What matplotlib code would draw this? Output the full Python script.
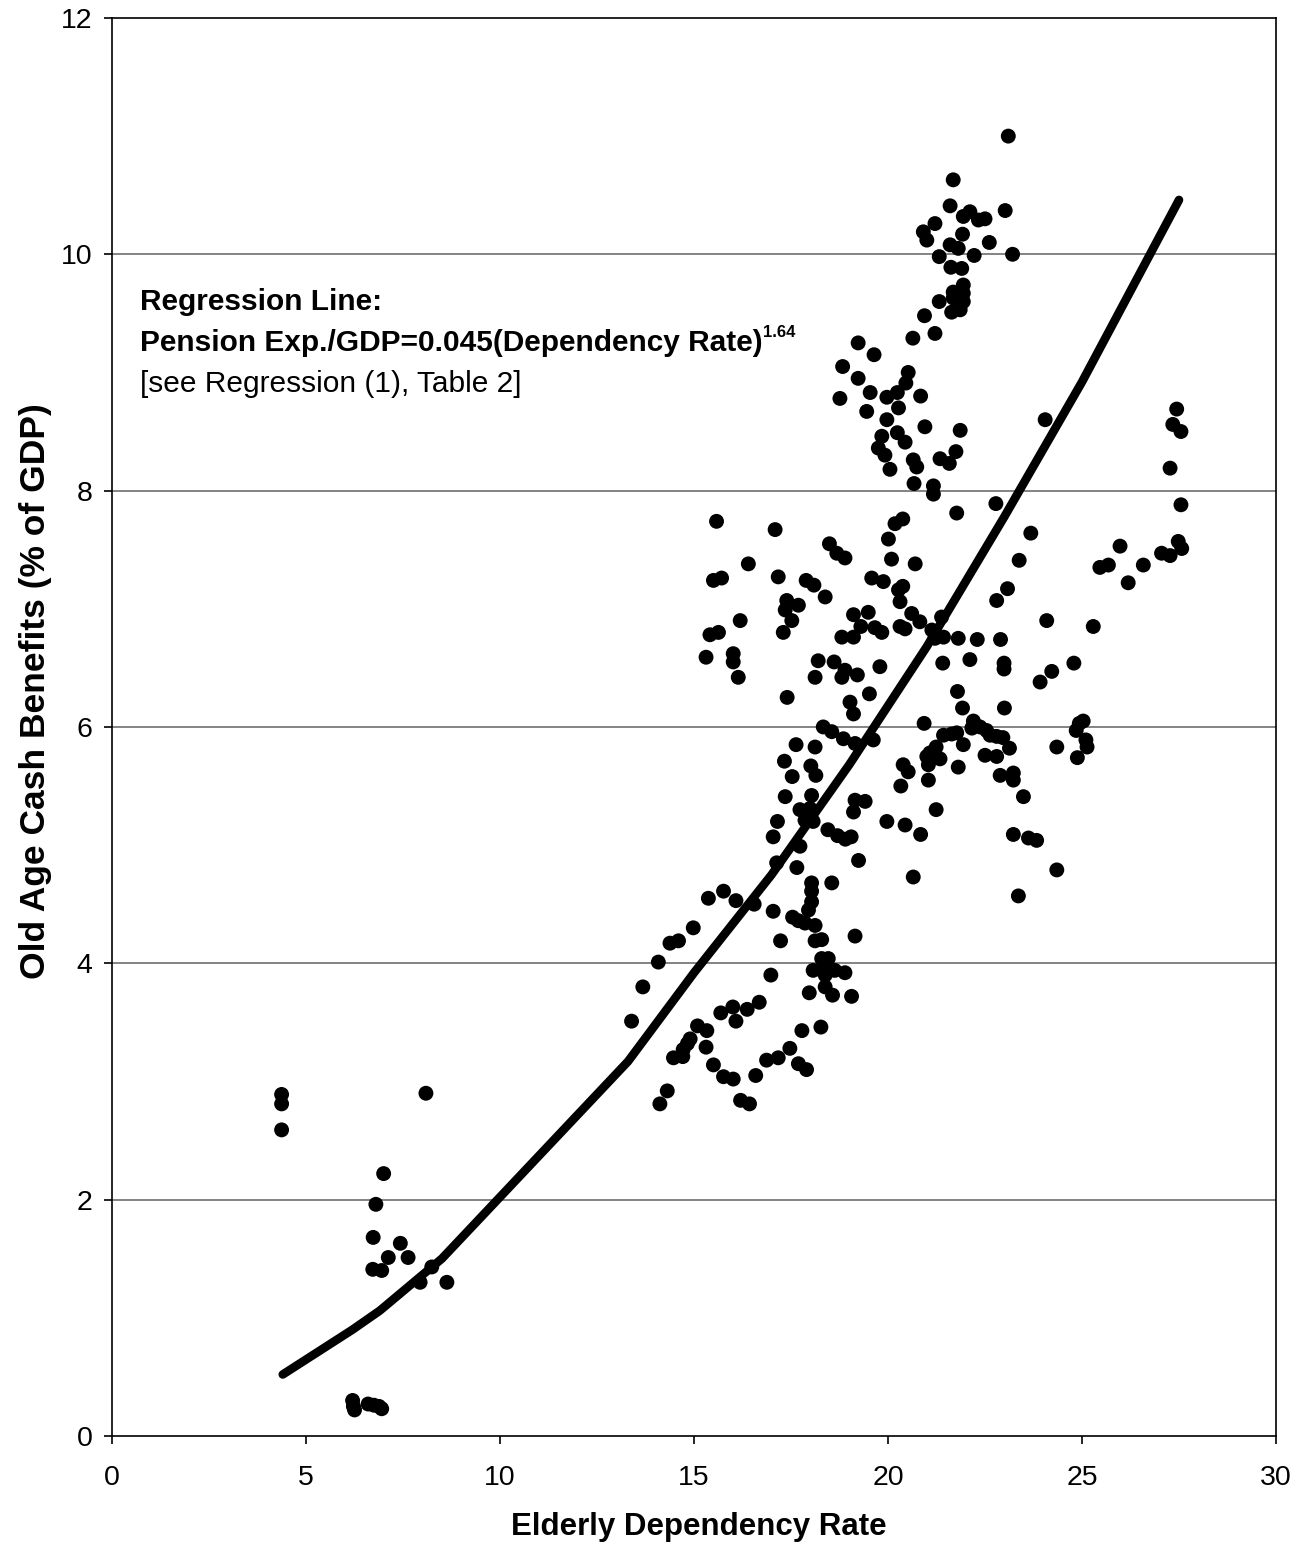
import numpy as np
import matplotlib
matplotlib.use("Agg")
import matplotlib.pyplot as plt

plt.rcParams["font.family"] = ["Liberation Sans", "DejaVu Sans"]

# elderly dependency rate (x) and old age cash benefits, % of GDP (y)
dep_rate = [
    4.37, 4.37, 4.37, 8.09, 7.00, 6.80, 6.73, 7.43, 7.12, 7.63, 6.72, 6.95, 8.24, 7.94, 8.63,
    6.20, 6.22, 6.25, 6.60, 6.75, 6.88, 6.95,
    13.39, 13.68, 14.08, 14.38, 14.60, 14.98, 15.37, 15.76, 16.08, 16.55, 17.04, 17.54, 17.69,
    17.86, 18.12, 17.23, 18.12, 18.29, 19.15,
    14.12, 14.31, 14.47, 14.71, 14.72, 14.83, 14.90, 15.09, 15.33, 15.31, 15.50, 15.69, 16.00,
    16.08, 16.37, 16.68, 15.76, 16.01, 16.20, 16.43, 16.59, 16.87, 17.17, 17.47, 17.78, 17.69,
    17.90, 18.27, 16.98,
    17.97, 18.38, 18.57, 19.06,
    18.29, 18.46, 18.07, 18.33, 18.50, 18.38, 18.63, 18.89,
    18.03, 18.03, 18.03, 17.95, 18.55, 19.24, 20.65,
    17.04, 17.73, 17.13, 17.65, 18.45, 18.70, 18.90, 19.05,
    15.58, 17.09, 16.40, 15.50, 15.71, 17.17, 18.49, 18.68, 18.89, 17.89, 18.09, 18.38, 17.39,
    17.69, 17.35, 17.52, 17.30, 16.19, 15.41, 15.63, 15.31, 16.01, 16.01, 16.14, 17.40, 18.20,
    18.12, 18.61, 18.89, 18.81, 19.21, 19.11, 19.49, 19.30, 18.81, 19.11, 19.58, 19.88,
    19.79, 19.52, 19.02, 19.11, 18.33, 18.55, 18.85, 19.15, 19.62, 17.63, 18.12, 17.33, 18.01,
    18.14, 17.53, 17.35, 18.03, 19.15, 19.41, 19.11, 17.73, 17.99, 17.86, 18.07, 17.15, 19.97,
    23.10, 21.68, 21.60, 23.02, 21.94, 22.11, 22.33, 22.50, 21.21, 20.91, 21.00, 21.92, 22.61,
    21.60, 21.81, 21.32, 22.22, 23.21, 21.62, 21.90, 21.94, 21.94, 21.94, 21.68, 21.68, 21.64,
    21.86, 21.32, 20.94, 20.64, 21.21, 19.23, 19.64, 18.83, 19.23, 20.52, 20.46, 19.54, 18.76,
    19.97, 20.24, 20.84, 19.45, 20.27, 19.97, 20.95, 21.86, 19.84, 20.24, 20.44, 19.75, 19.92,
    21.75, 20.65, 20.74, 21.34, 21.58, 20.05, 20.67, 21.17, 21.17,
    21.77, 22.78, 23.68, 20.18, 20.38, 20.01, 20.09, 20.70, 23.38, 20.38, 20.27, 20.31, 23.08,
    22.80, 20.61, 20.82, 19.66, 19.84, 20.31, 20.44, 21.38, 21.13, 21.21, 21.43, 21.81, 22.30,
    22.90, 24.09, 21.41, 22.11, 22.99, 22.99, 24.22, 23.92, 21.79, 21.92, 23.00, 20.93, 21.43,
    21.64, 21.77, 22.20, 22.16, 22.37, 22.54, 22.63, 22.80, 22.96, 23.13, 24.35, 21.24, 21.08,
    21.00, 21.34, 21.04, 21.94, 22.50, 22.80, 21.81, 20.39, 20.52, 21.04, 22.89, 23.23, 23.23,
    20.33, 23.49, 21.24, 20.44, 20.84, 23.23, 23.62, 23.83, 24.35,
    24.05, 27.44, 27.34, 27.55, 27.27, 27.55, 25.98, 27.48, 27.57, 27.05, 27.27, 25.46, 25.68,
    26.58, 26.19, 25.29, 24.79, 24.93, 25.03, 24.85, 25.10, 25.13, 24.88, 23.36,
]
benefits = [
    2.89, 2.81, 2.59, 2.90, 2.22, 1.96, 1.68, 1.63, 1.51, 1.51, 1.41, 1.40, 1.43, 1.30, 1.30,
    0.30, 0.25, 0.22, 0.27, 0.26, 0.25, 0.23,
    3.51, 3.80, 4.01, 4.17, 4.19, 4.30, 4.55, 4.61, 4.53, 4.50, 4.44, 4.39, 4.36,
    4.34, 4.32, 4.19, 4.19, 4.20, 4.23,
    2.81, 2.92, 3.20, 3.21, 3.27, 3.32, 3.36, 3.47, 3.43, 3.29, 3.14, 3.58, 3.63,
    3.51, 3.61, 3.67, 3.04, 3.02, 2.84, 2.81, 3.05, 3.18, 3.20, 3.28, 3.43, 3.15,
    3.10, 3.46, 3.90,
    3.75, 3.80, 3.73, 3.72,
    4.04, 4.04, 3.94, 3.97, 3.94, 3.90, 3.94, 3.92,
    4.68, 4.61, 4.52, 4.45, 4.68, 4.87, 4.73,
    5.07, 4.99, 4.85, 4.81, 5.13, 5.08, 5.05, 5.07,
    7.74, 7.67, 7.38, 7.24, 7.26, 7.27, 7.55, 7.47, 7.43, 7.24, 7.20, 7.10, 7.07,
    7.03, 6.99, 6.90, 6.80, 6.90, 6.78, 6.80, 6.59, 6.62, 6.55, 6.42, 6.25, 6.56,
    6.42, 6.55, 6.48, 6.42, 6.44, 6.95, 6.97, 6.85, 6.76, 6.76, 7.26, 7.23,
    6.51, 6.28, 6.21, 6.11, 6.00, 5.96, 5.90, 5.86, 5.89, 5.85, 5.83, 5.71, 5.67,
    5.59, 5.58, 5.41, 5.42, 5.38, 5.37, 5.28, 5.30, 5.31, 5.21, 5.20, 5.20, 5.20,
    11.00, 10.63, 10.41, 10.37, 10.32, 10.36, 10.29, 10.30, 10.26, 10.19, 10.12, 10.17, 10.10,
    10.08, 10.05, 9.98, 9.99, 10.00, 9.89, 9.88, 9.74, 9.67, 9.60, 9.68, 9.63, 9.51,
    9.53, 9.60, 9.48, 9.29, 9.33, 9.25, 9.15, 9.05, 8.95, 9.00, 8.91, 8.83, 8.78,
    8.79, 8.83, 8.80, 8.67, 8.70, 8.60, 8.54, 8.51, 8.46, 8.49, 8.41, 8.36, 8.30,
    8.33, 8.26, 8.20, 8.27, 8.23, 8.18, 8.06, 8.04, 7.97,
    7.81, 7.89, 7.64, 7.72, 7.76, 7.59, 7.42, 7.38, 7.41, 7.19, 7.16, 7.06, 7.17,
    7.07, 6.96, 6.89, 6.84, 6.80, 6.85, 6.83, 6.93, 6.82, 6.75, 6.76, 6.75, 6.74,
    6.74, 6.90, 6.54, 6.57, 6.54, 6.49, 6.47, 6.38, 6.30, 6.16, 6.16, 6.03, 5.93,
    5.94, 5.95, 6.05, 5.99, 6.00, 5.97, 5.93, 5.92, 5.91, 5.82, 5.83, 5.83, 5.78,
    5.75, 5.73, 5.68, 5.85, 5.76, 5.75, 5.66, 5.68, 5.62, 5.55, 5.59, 5.61, 5.55,
    5.50, 5.41, 5.30, 5.17, 5.09, 5.09, 5.06, 5.04, 4.79,
    8.60, 8.69, 8.56, 8.50, 8.19, 7.88, 7.53, 7.57, 7.51, 7.47, 7.45, 7.35, 7.37,
    7.37, 7.22, 6.85, 6.54, 6.03, 6.05, 5.97, 5.89, 5.83, 5.74, 4.57,
]

# regression line vertices
fit_x = [4.4, 6.2, 6.9, 8.5, 13.3, 15.0, 17.0, 19.0, 21.0, 23.0, 25.0, 27.5]
fit_y = [0.52, 0.90, 1.06, 1.50, 3.17, 3.92, 4.75, 5.68, 6.68, 7.78, 8.92, 10.46]

x_ticks = [0, 5, 10, 15, 20, 25, 30]
y_ticks = [0, 2, 4, 6, 8, 10, 12]

fig = plt.figure(figsize=(13.09, 15.47), dpi=100)
ax = fig.add_axes([0.0856, 0.0718, 0.8892, 0.9166])

ax.set_xlim(0, 30)
ax.set_ylim(0, 12)
ax.set_xticks(x_ticks)
ax.set_yticks(y_ticks)
ax.tick_params(axis="both", direction="out", length=6, width=1.2, labelsize=20.5)
ax.tick_params(axis="x", pad=15)
ax.tick_params(axis="y", pad=8)
for s in ax.spines.values():
    s.set_linewidth(1.2)

for yv in y_ticks[1:-1]:
    ax.axhline(yv, color="#7a7a7a", lw=1.3, zorder=1)

ax.scatter(dep_rate, benefits, s=115, color="black", edgecolors="none", zorder=3)
ax.plot(fit_x, fit_y, color="black", lw=6.2, solid_capstyle="round",
        solid_joinstyle="round", zorder=4)

ax.set_xlabel("Elderly Dependency Rate", fontsize=22.5, fontweight="bold", va="center")
ax.xaxis.set_label_coords(0.504, -0.064)
ax.set_ylabel("Old Age Cash Benefits (% of GDP)", fontsize=25.5, fontweight="bold", va="center")
ax.yaxis.set_label_coords(-0.066, 0.525)

ax.text(0.72, 9.60, "Regression Line:", fontsize=21.5, fontweight="bold", va="center")
eq = ax.text(0.72, 9.25, "Pension Exp./GDP=0.045(Dependency Rate)",
             fontsize=21.5, fontweight="bold", va="center")
# small raised exponent right after the closing bracket
ax.annotate("1.64", xy=(1.0, 1.0), xycoords=eq, xytext=(0.5, 2.5),
            textcoords="offset points", fontsize=12, fontweight="bold",
            ha="left", va="top")
ax.text(0.72, 8.90, "[see Regression (1), Table 2]", fontsize=21.5, va="center")

fig.savefig("out.png", dpi=100)
